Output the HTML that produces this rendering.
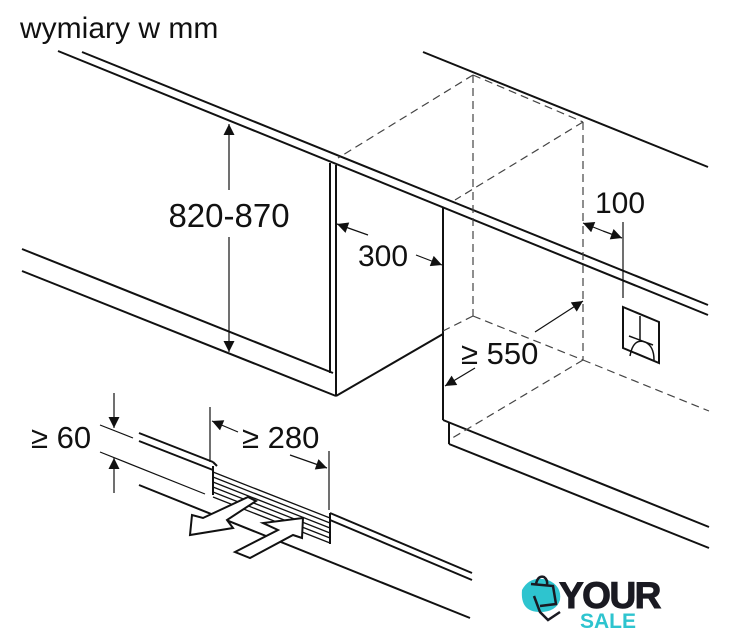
<!DOCTYPE html>
<html><head><meta charset="utf-8"><style>
html,body{margin:0;padding:0;background:#fff;}
svg{display:block;font-family:"Liberation Sans",Arial,sans-serif;}
</style></head><body>
<svg width="730" height="640" viewBox="0 0 730 640" xmlns="http://www.w3.org/2000/svg">
<defs>
<marker id="ah" viewBox="0 0 10 10" refX="10" refY="5" markerWidth="13" markerHeight="11" markerUnits="userSpaceOnUse" orient="auto">
<path d="M0,0 L10,5 L0,10 z" fill="#111"/></marker>
</defs>
<text x="20" y="38" font-size="30" fill="#111">wymiary w mm</text>

<g stroke="#111" stroke-width="2" fill="none">
<line x1="82" y1="52" x2="708" y2="305"/>
<line x1="58" y1="51" x2="708" y2="315"/>
<line x1="423" y1="52" x2="708" y2="167"/>
<line x1="22" y1="249" x2="333" y2="373"/>
<line x1="22" y1="271" x2="336" y2="396"/>
<line x1="330" y1="163" x2="330" y2="373"/>
<line x1="336" y1="165" x2="336" y2="396"/>
<line x1="336" y1="396" x2="443" y2="334"/>
<line x1="443" y1="208" x2="443" y2="420"/>
<line x1="443" y1="420" x2="709" y2="527"/>
<line x1="449" y1="422" x2="449" y2="444"/>
<line x1="449" y1="444" x2="709" y2="548"/>
<path d="M623,307 L659,322 L659,363 L623,348 Z"/>
</g>
<g stroke="#111" stroke-width="1.5" fill="none">
<line x1="640" y1="316" x2="640" y2="340"/>
<line x1="629" y1="336" x2="653" y2="345"/>
<path d="M630,356 Q633,338 645,342 Q654,346 654,360"/>
</g>

<g stroke="#444" stroke-width="1.2" stroke-dasharray="8,5" fill="none">
<line x1="473" y1="75" x2="583" y2="122"/>
<line x1="473" y1="75" x2="338" y2="158"/>
<line x1="583" y1="122" x2="455" y2="200"/>
<line x1="473" y1="75" x2="473" y2="316"/>
<line x1="583" y1="122" x2="583" y2="360"/>
<line x1="473" y1="316" x2="583" y2="360"/>
<line x1="473" y1="316" x2="443" y2="331"/>
<line x1="583" y1="360" x2="709" y2="411"/>
<line x1="583" y1="360" x2="449" y2="440"/>
</g>

<g stroke="#111" stroke-width="1.2" fill="none">
<line x1="229" y1="190" x2="229" y2="124" marker-end="url(#ah)"/>
<line x1="229" y1="237" x2="229" y2="352" marker-end="url(#ah)"/>
<line x1="368" y1="235" x2="337" y2="224" marker-end="url(#ah)"/>
<line x1="416" y1="255" x2="442" y2="265" marker-end="url(#ah)"/>
<line x1="603" y1="231" x2="583" y2="223" marker-end="url(#ah)"/>
<line x1="603" y1="231" x2="622" y2="238" marker-end="url(#ah)"/>
<line x1="623" y1="222" x2="623" y2="298"/>
<line x1="535" y1="332" x2="583" y2="301" marker-end="url(#ah)"/>
<line x1="475" y1="368" x2="445" y2="386" marker-end="url(#ah)"/>
<line x1="114" y1="393" x2="114" y2="428" marker-end="url(#ah)"/>
<line x1="114" y1="493" x2="114" y2="458" marker-end="url(#ah)"/>
<line x1="100" y1="425" x2="133" y2="438"/>
<line x1="100" y1="452" x2="205" y2="494"/>
<line x1="210" y1="407" x2="210" y2="462"/>
<line x1="329" y1="451" x2="329" y2="510"/>
<line x1="238" y1="432" x2="212" y2="421" marker-end="url(#ah)"/>
<line x1="290" y1="455" x2="327" y2="468" marker-end="url(#ah)"/>
</g>

<text x="229" y="227" font-size="33" text-anchor="middle" fill="#111">820-870</text>
<text x="383" y="266" font-size="30" text-anchor="middle" fill="#111">300</text>
<text x="620" y="213" font-size="30" text-anchor="middle" fill="#111">100</text>
<text x="461" y="364" font-size="31" fill="#111">≥ 550</text>
<text x="31" y="448" font-size="31" fill="#111">≥ 60</text>
<text x="242" y="448" font-size="31" fill="#111">≥ 280</text>

<g stroke="#111" stroke-width="2" fill="none">
<line x1="139" y1="433" x2="213" y2="462"/>
<line x1="139" y1="441" x2="213" y2="470"/>
<line x1="213" y1="462" x2="217" y2="466"/>
<line x1="213" y1="466" x2="213" y2="495"/>
<line x1="330" y1="513" x2="330" y2="544"/>
<line x1="330" y1="513" x2="472" y2="573"/>
<line x1="330" y1="520" x2="472" y2="580"/>
<line x1="139" y1="485" x2="470" y2="618"/>
</g>
<g stroke="#111" stroke-width="1.3">
<line x1="213" y1="472" x2="330" y2="518"/>
<line x1="213" y1="477" x2="330" y2="523"/>
<line x1="213" y1="482" x2="330" y2="528"/>
<line x1="213" y1="487" x2="330" y2="533"/>
<line x1="213" y1="492" x2="330" y2="538"/>
<line x1="213" y1="497" x2="330" y2="543"/>
</g>
<g stroke="#111" stroke-width="2" fill="#fff" stroke-linejoin="miter">
<path d="M190,535 L192,515 L203,518 L248,497 L256,501 L227,520 L233,528 Z"/>
<path d="M235,552 L278,530 L263,523 L303,518 L302,538 L293,535 L250,558 Z"/>
</g>

<g>
<path d="M522,590 Q530,575 548,580 Q562,586 560,600 Q556,612 540,612 Q520,612 522,590 Z" fill="#2ec4cf"/>
<path d="M531,584 L553,586 L556,604 L540,606 M536,584 Q538,575 544,577 Q548,580 547,585" stroke="#1a1a22" stroke-width="2.5" fill="none"/>
<path d="M534,596 L540,612 L548,620 L560,612" stroke="#1a1a22" stroke-width="2.5" fill="none"/>
<text x="559" y="608" font-size="37" font-weight="bold" fill="#1a1a22" letter-spacing="-1.5" stroke="#1a1a22" stroke-width="1">YOUR</text>
<text x="580" y="628" font-size="21" font-weight="bold" fill="#2ec4cf">SALE</text>
</g>
</svg>
</body></html>
